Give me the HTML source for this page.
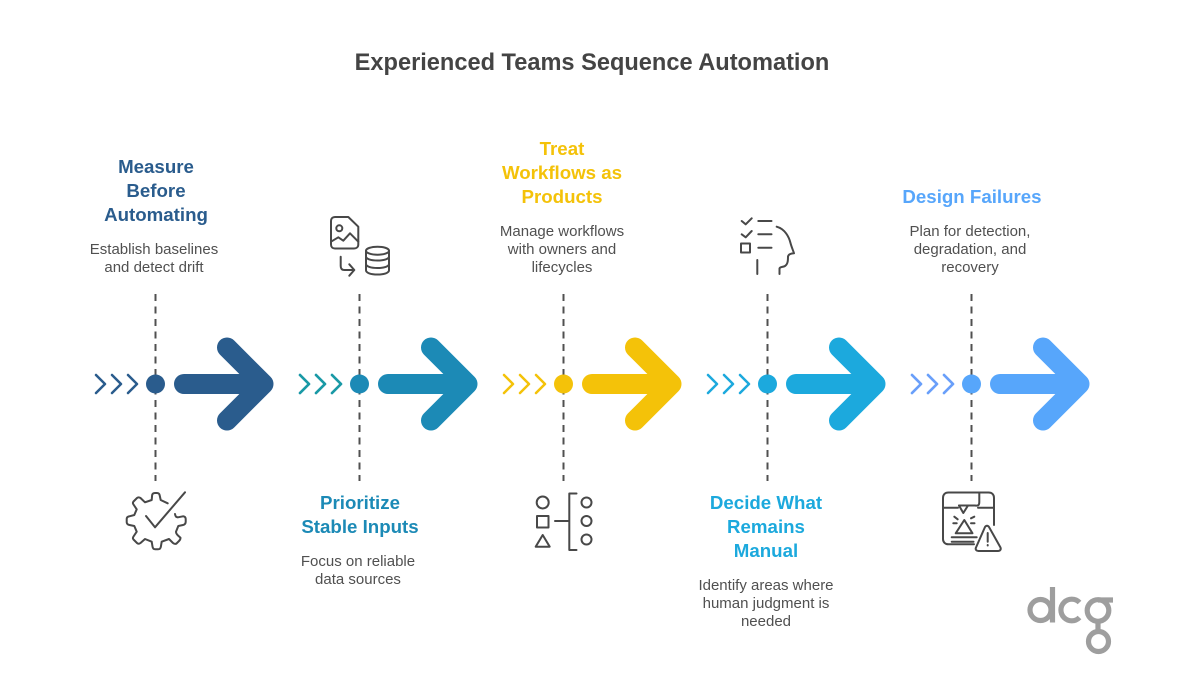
<!DOCTYPE html>
<html><head><meta charset="utf-8"><style>
html,body{margin:0;padding:0;background:#fff}
#c{position:relative;width:1184px;height:690px;overflow:hidden;font-family:"Liberation Sans",sans-serif}
svg{position:absolute;left:0;top:0}
.t{position:absolute;text-align:center;white-space:nowrap}
.h{font-size:18.7px;font-weight:700;line-height:24px}
.d{font-size:15px;line-height:18px;color:#505050}
</style></head><body><div id="c">
<svg width="1184" height="690" viewBox="0 0 1184 690" fill="none">
<defs>
<g id="a" stroke-linecap="round" stroke-linejoin="round">
<path d="M184 384H262M227 347.500L263.500 384L227 420.500" stroke-width="20"/>
<path d="M96 375l9 9-9 9M112 375l9 9-9 9M128 375l9 9-9 9" stroke-width="2.500"/>
</g>
<g id="l" stroke="#505050" stroke-width="2" stroke-dasharray="7 5.500">
<path d="M155.500 294V375M155.500 387.500V481"/>
</g>
</defs>
<use href="#l"/><use href="#l" x="204"/><use href="#l" x="408"/><use href="#l" x="612"/><use href="#l" x="816"/>
<g stroke="#2a5c8d" fill="none"><use href="#a"/></g><circle cx="155.500" cy="384" r="9.500" fill="#2a5c8d"/>
<g stroke="#1c8ab6" fill="none" transform="translate(204 0)"><use href="#a"/></g><circle cx="359.500" cy="384" r="9.500" fill="#1c8ab6"/>
<g stroke="#f4c209" fill="none" transform="translate(408 0)"><use href="#a"/></g><circle cx="563.500" cy="384" r="9.500" fill="#f4c209"/>
<g stroke="#1ca9dd" fill="none" transform="translate(612 0)"><use href="#a"/></g><circle cx="767.500" cy="384" r="9.500" fill="#1ca9dd"/>
<g stroke="#57a6fb" fill="none" transform="translate(816 0)"><use href="#a"/></g><circle cx="971.500" cy="384" r="9.500" fill="#57a6fb"/>
<path d="M300 375l9 9-9 9M316 375l9 9-9 9M332 375l9 9-9 9" stroke="#1a9aa5" stroke-width="2.500" stroke-linecap="round" stroke-linejoin="round"/>
<path d="M912 375l9 9-9 9M928 375l9 9-9 9M944 375l9 9-9 9" stroke="#6a9ffa" stroke-width="2.500" stroke-linecap="round" stroke-linejoin="round"/>

<g stroke="#484848" stroke-width="2" stroke-linecap="round" stroke-linejoin="round">
<!-- gear -->
<path d="M175 514Q175.500 517.500 178 517.300L183 516.300Q185.500 516.500 185.700 519V522Q185.500 524.500 183 525L178.300 526L176 531.700Q176 533.500 178 535.500L180.500 537.700Q180.500 539.500 179 541L176.500 543.500Q175 544.500 173 543L169 539L161.700 541.700L160.900 546.500Q160.500 549.300 158 549.300H155.300Q152.900 549.300 152.500 546.500L151.700 541.700L145 539L140.500 543Q138.500 544.500 137 543L133.500 539.500Q132.300 538.300 133.500 536.500L136.700 531.700L134.300 526L129.500 525Q126.700 524.500 126.700 522V519Q126.700 516.700 129.500 516.300L134.300 515L136.700 509.300L133.500 504.500Q132.300 503 133.500 501.500L137 498Q138.500 496.700 140.500 498L145 502.300L151.700 500L152.100 495.500Q152.300 493 155 493H157Q159.300 493 159.700 495.500L160.700 500L167.700 503.300"/>
<path d="M146 516L155 527.300L185 492.300"/>
<!-- image + db -->
<path d="M335 217H348.300L358.300 226.700V244.500C358.300 247 356.500 248.500 354 248.500H335C332.500 248.500 331 247 331 244.500V221C331 218.500 332.500 217 335 217Z"/>
<circle cx="339.300" cy="228.300" r="3"/>
<path d="M331 241.700L338.300 237.300L343.300 240.700L350 233.300L358.300 241.700"/>
<path d="M340.700 256.700V266C340.700 268.500 342 270 344.500 270H354.300M349.300 264.300L354.300 270L349.300 275.700"/>
<ellipse cx="377.500" cy="250.700" rx="11.500" ry="4"/>
<path d="M366 250.700V270.300C366 273 371 274.500 377.500 274.500S389 273 389 270.300V250.700M366 256.500C366 259 371 260.500 377.500 260.500S389 259 389 256.500M366 264C366 266.500 371 268 377.500 268S389 266.500 389 264"/>
<!-- shapes -->
<circle cx="542.700" cy="502.500" r="6"/>
<rect x="537" y="516" width="11.500" height="11.500"/>
<path d="M542.700 535L549.700 546.700H535.700Z"/>
<path d="M576.500 493.500H569.300V550H576.500M555 521H569.300"/>
<circle cx="586.500" cy="502.500" r="5"/><circle cx="586.500" cy="521" r="5"/><circle cx="586.500" cy="539.500" r="5"/>
<!-- checklist head -->
<path d="M741.700 221L745.700 224.300L751.700 218.300M758.300 221H771.500M741.700 234.300L745.700 237.300L751.700 231M758.300 234.300H771.500M758.300 247.700H771.500M757.300 260V274"/>
<rect x="741" y="243.500" width="9" height="9"/>
<path d="M776.700 226.700C785 229 789 237 790.500 243C791.500 247 793 250 794 253.300C791 253.500 788.500 254 788 256.500C788 260 788 264 785 266C783 267.300 780 266.500 779.500 268.500V274"/>
<!-- printer warn -->
<path d="M974 544.300H948.500C945 544.300 943 542 943 539V498C943 494.500 945 492.500 948.500 492.500H988.500C992 492.500 994 494.500 994 498V525"/>
<path d="M943 507.700H958M978 507.700H994M979.300 492.500V502C979.300 505.500 978 506 975 505.500H959"/>
<path d="M959 505.500L963.300 513L968 505.500"/>
<path d="M964.300 520L955.700 533.300H972.500Z"/>
<path d="M954.300 516.700L957.700 519.300M953.300 523.300H956.700M971 518.300L974.300 516.700M971 523.300H974.500M951.700 537.300H976.700M951.700 541.700H973.500"/>
<path d="M985 527C986 525.300 988 525.300 989 527L1000.500 547.500C1001.300 549.500 1000 551 998 551H978.500C976.500 551 975 549.500 976 547.500Z"/>
<path d="M987.700 533V541.700M987.700 545V545.500"/>
</g>
<!-- logo -->
<g stroke="#9e9e9e" stroke-width="5.200" fill="none">
<circle cx="1040.500" cy="610" r="10.500"/>
<path d="M1052.500 587V622.500"/>
<path d="M1079.500 602.500A10.800 10.800 0 1 0 1079.500 617.500"/>
<circle cx="1098" cy="610.500" r="10.800"/>
<path d="M1098 600H1113M1098 621V630"/>
<circle cx="1098.500" cy="641.500" r="10"/>
</g>
</svg>

<div class="t" style="left:0;width:1184px;top:48px;font-size:23.600px;font-weight:700;line-height:30px;color:#444">Experienced Teams Sequence Automation</div>

<div class="t h" style="left:56px;width:200px;top:155px;color:#2a5c8d">Measure<br>Before<br>Automating</div>
<div class="t d" style="left:54px;width:200px;top:241px">Establish baselines<br>and detect drift</div>

<div class="t h" style="left:260px;width:200px;top:491px;color:#1c8ab6">Prioritize<br>Stable Inputs</div>
<div class="t d" style="left:258px;width:200px;top:553px">Focus on reliable<br>data sources</div>

<div class="t h" style="left:462px;width:200px;top:137px;color:#f4c209">Treat<br>Workflows as<br>Products</div>
<div class="t d" style="left:462px;width:200px;top:223px">Manage workflows<br>with owners and<br>lifecycles</div>

<div class="t h" style="left:666px;width:200px;top:491px;color:#1ca9dd">Decide What<br>Remains<br>Manual</div>
<div class="t d" style="left:666px;width:200px;top:577px">Identify areas where<br>human judgment is<br>needed</div>

<div class="t h" style="left:872px;width:200px;top:185px;color:#57a6fb">Design Failures</div>
<div class="t d" style="left:870px;width:200px;top:223px">Plan for detection,<br>degradation, and<br>recovery</div>
</div></body></html>
